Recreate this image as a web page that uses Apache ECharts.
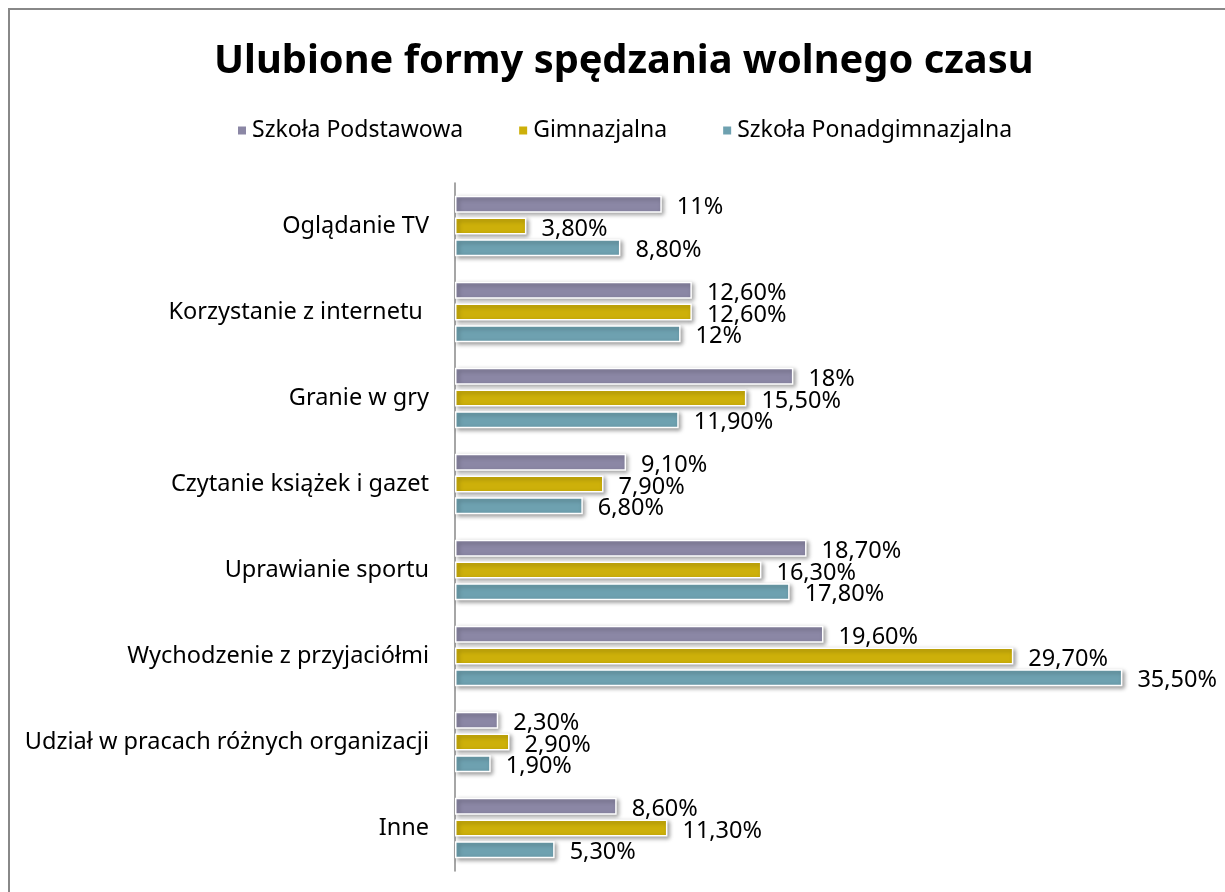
<!DOCTYPE html>
<html><head><meta charset="utf-8">
<script src="https://cdn.jsdelivr.net/npm/echarts@6/dist/echarts.min.js"></script>
<style>html,body{margin:0;padding:0;background:#fff}#c{width:1225px;height:892px}</style>
</head><body><div id="c"></div>
<script>
const categories = ['Oglądanie TV','Korzystanie z internetu ','Granie w gry','Czytanie książek i gazet','Uprawianie sportu','Wychodzenie z przyjaciółmi','Udział w pracach różnych organizacji','Inne'];
const seriesNames = ['Szkoła Podstawowa','Gimnazjalna','Szkoła Ponadgimnazjalna'];
const podstawowa = [11, 12.6, 18, 9.1, 18.7, 19.6, 2.3, 8.6];
const gimnazjalna = [3.8, 12.6, 15.5, 7.9, 16.3, 29.7, 2.9, 11.3];
const ponadgimnazjalna = [8.8, 12, 11.9, 6.8, 17.8, 35.5, 1.9, 5.3];
const colors = ['#8B87A5','#CDB00A','#6EA1B0'];
const FONT = 'Noto Sans';

function fmt(v){ return Number.isInteger(v) ? v + '%' : v.toFixed(2).replace('.', ',') + '%'; }

const chart = echarts.init(document.getElementById('c'), null, {renderer:'canvas'});
const data = [podstawowa, gimnazjalna, ponadgimnazjalna];
chart.setOption({
  animation:false,
  backgroundColor:'#fff',
  title:{text:'Ulubione formy spędzania wolnego czasu', left:214, top:42, padding:0,
    textStyle:{fontFamily:FONT, fontSize:39.8, fontWeight:'bold', color:'#000'}},
  legend:{top:119, left:236, padding:0, itemWidth:10, itemHeight:10, itemGap:54, icon:'rect',
    textStyle:{fontFamily:FONT, fontSize:23, color:'#000'}, data:seriesNames},
  graphic:[{type:'rect', shape:{x:9, y:9, width:1240, height:900}, style:{fill:'none', stroke:'#888', lineWidth:2}}],
  grid:{left:455, right:18, top:183, bottom:21},
  xAxis:{type:'value', min:0, max:40, show:false, splitLine:{show:false}},
  yAxis:{type:'category', inverse:true, data:categories,
    axisLine:{show:true, lineStyle:{color:'#888', width:1.5}},
    axisTick:{show:false},
    axisLabel:{fontFamily:FONT, fontSize:23.5, color:'#000', margin:26}},
  series: seriesNames.map((n,i)=>({
    name:n, type:'bar', data:data[i], barWidth:17, barGap:'28%',
    itemStyle:{color:colors[i], borderColor:'#fff', borderWidth:1.5,
      shadowColor:'rgba(0,0,0,0.35)', shadowBlur:4, shadowOffsetX:2, shadowOffsetY:2},
    label:{show:true, position:'right', distance:15, offset:[0,3], formatter:p=>fmt(p.value),
      fontFamily:FONT, fontSize:23.5, color:'#000'}
  }))
});
</script></body></html>
